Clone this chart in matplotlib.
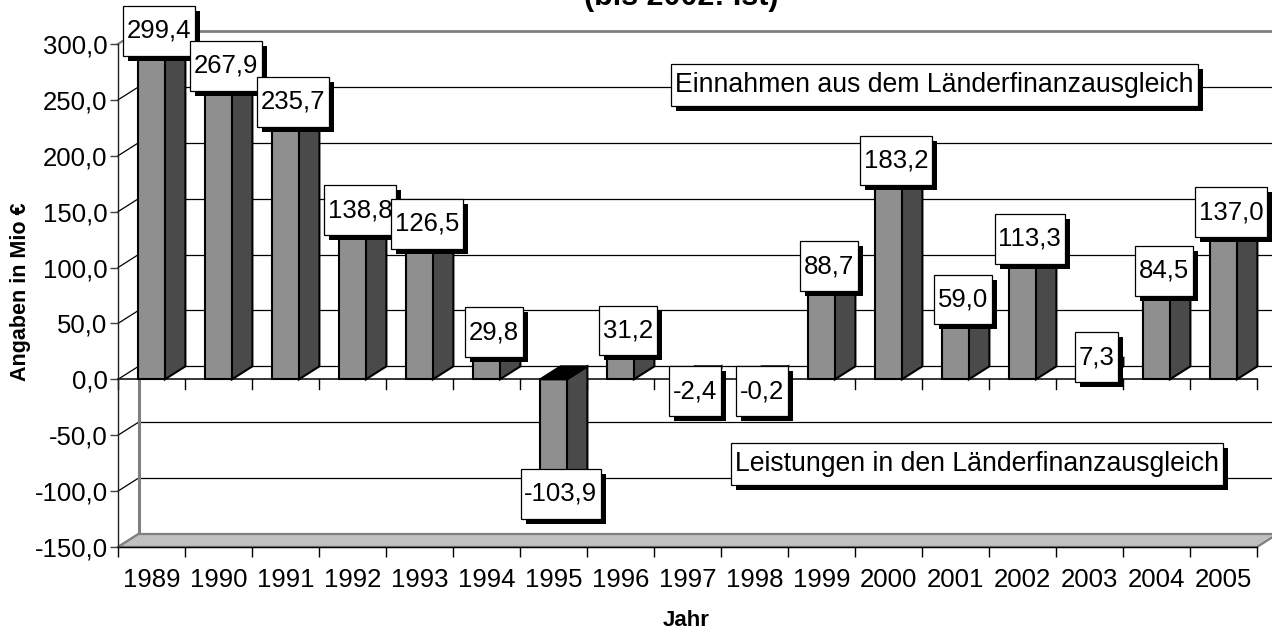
import matplotlib
matplotlib.use("Agg")
import matplotlib.pyplot as plt
from matplotlib.patches import Polygon
from matplotlib.path import Path
import matplotlib.patheffects as pe
from matplotlib.ticker import FuncFormatter, FixedLocator

# ---------------- data ----------------
years = ['1989', '1990', '1991', '1992', '1993', '1994', '1995', '1996', '1997',
         '1998', '1999', '2000', '2001', '2002', '2003', '2004', '2005']
values = [299.4, 267.9, 235.7, 138.8, 126.5, 29.8, -103.9, 31.2, -2.4,
          -0.2, 88.7, 183.2, 59.0, 113.3, 7.3, 84.5, 137.0]
y_ticks = [-150, -100, -50, 0, 50, 100, 150, 200, 250, 300]
title_text = "(bis 2002: Ist)"
ylabel_text = "Angaben in Mio €"
xlabel_text = "Jahr"
note_in = "Einnahmen aus dem Länderfinanzausgleich"
note_out = "Leistungen in den Länderfinanzausgleich"

# ---------------- style ----------------
plt.rcParams['font.family'] = ['Liberation Sans', 'DejaVu Sans']
FS = 18.5
FRONT = '#8f8f8f'
SIDE = '#4a4a4a'
TOP = '#000000'
FLOOR = '#c0c0c0'
WALLEDGE = '#808080'

W, H = 1272, 636
fig = plt.figure(figsize=(W / 100, H / 100), dpi=100)
L, R, T, B = 118, 1257, 44, 547
ax = fig.add_axes([L / W, 1 - B / H, (R - L) / W, (B - T) / H])
n = len(years)
ymin, ymax = y_ticks[0], y_ticks[-1]
ax.set_xlim(0, n)
ax.set_ylim(ymin, ymax)
ax.set_facecolor('none')

sx = (R - L) / n            # px per category
sy = (B - T) / (ymax - ymin)  # px per value unit
DX = 20.5 / sx              # depth offset in x (data)
DY = 13.0 / sy              # depth offset in y (data)

# ---------------- walls ----------------
for t in y_ticks:
    if t == ymax:
        ax.plot([DX, n + DX], [t + DY, t + DY], color=WALLEDGE, lw=2.0,
                clip_on=False, zorder=1, solid_capstyle='butt')
    elif t == ymin:
        pass
    else:
        ax.plot([DX, n + DX], [t + DY, t + DY], color='black', lw=0.9,
                clip_on=False, zorder=1)
for t in y_ticks:
    c = WALLEDGE if t in (ymin, ymax) else 'black'
    lw = 1.6 if t in (ymin, ymax) else 0.9
    ax.plot([0, DX], [t, t + DY], color=c, lw=lw, clip_on=False, zorder=1)
ax.plot([DX, DX], [ymin + DY, ymax + DY], color=WALLEDGE, lw=2.2,
        clip_on=False, zorder=1, solid_capstyle='butt')
floor = Polygon([(0, ymin), (n, ymin), (n + DX, ymin + DY), (DX, ymin + DY)],
                closed=True, facecolor=FLOOR, edgecolor=WALLEDGE, lw=1.6,
                clip_on=False, zorder=1.2)
ax.add_patch(floor)
ax.plot([0, n], [ymin, ymin], color='black', lw=1.0, clip_on=False, zorder=1.3)

ax.plot([0, n], [0, 0], color='black', lw=1.1, clip_on=False, zorder=2)
tick_len = 10.0 / sy
for k in range(n + 1):
    ax.plot([k, k], [0, -tick_len], color='black', lw=1.0, clip_on=False, zorder=2)

# ---------------- bars ----------------
bw = 0.40
for i, v in enumerate(values):
    xc = i + 0.5
    x0, x1 = xc - bw / 2, xc + bw / 2
    side = Polygon([(x1, 0), (x1 + DX, DY), (x1 + DX, v + DY), (x1, v)], closed=True,
                   facecolor=SIDE, edgecolor='black', lw=1.5, zorder=3,
                   joinstyle='miter', clip_on=False)
    front = Polygon([(x0, 0), (x1, 0), (x1, v), (x0, v)], closed=True,
                    facecolor=FRONT, edgecolor='black', lw=1.5, zorder=3.1,
                    joinstyle='miter', clip_on=False)
    t = max(v, 0)
    top = Polygon([(x0, t), (x1, t), (x1 + DX, t + DY), (x0 + DX, t + DY)], closed=True,
                  facecolor=TOP, edgecolor='black', lw=1.5, zorder=3.2,
                  joinstyle='miter', clip_on=False)
    for p in (side, front, top):
        ax.add_patch(p)


# ---------------- label boxes ----------------
def make_box(padx, pady):
    def box(x0, y0, width, height, mutation_size):
        px = padx * mutation_size
        py = pady * mutation_size
        xa, ya = x0 - px, y0 - py
        xb, yb = x0 + width + px, y0 + height + py
        return Path([(xa, ya), (xb, ya), (xb, yb), (xa, yb), (xa, ya)], closed=True)
    return box


shadow = [pe.SimplePatchShadow(offset=(3.6, -3.6), shadow_rgbFace='black', alpha=1.0),
          pe.Normal()]


def boxed_text(x, y, s, fs=FS, padx=0.14, pady=0.5, z=6):
    txt = ax.text(x, y, s, ha='center', va='center', fontsize=fs, color='black',
                  zorder=z, clip_on=False,
                  bbox=dict(boxstyle=make_box(padx, pady), facecolor='white',
                            edgecolor='black', lw=0.9))
    txt.get_bbox_patch().set_path_effects(shadow)
    return txt


for i, v in enumerate(values):
    lab = f"{v:.1f}".replace('.', ',')
    xl = i + 0.5 + 0.11
    if v >= 0:
        yl = v + 12.5
    else:
        yl = min(v + 1.5, -10.5)
    boxed_text(xl, yl, lab)

boxed_text(12.19, 263.0, note_in, fs=19.2, padx=0.15, pady=0.3)
boxed_text(12.82, -76.0, note_out, fs=19.2, padx=0.15, pady=0.3)

# ---------------- axes / ticks ----------------
for s in ('top', 'right', 'bottom'):
    ax.spines[s].set_visible(False)
ax.spines['left'].set_color('#202020')
ax.spines['left'].set_linewidth(1.0)
ax.spines['left'].set_zorder(2)

ax.yaxis.set_major_locator(FixedLocator(y_ticks))
ax.yaxis.set_major_formatter(FuncFormatter(lambda v, p: f"{v:.1f}".replace('.', ',')))
ax.tick_params(axis='y', which='major', length=6, width=1.0, color='#404040',
               pad=1.5, labelsize=FS)

ax.set_xticks([i + 0.5 for i in range(n)])
ax.set_xticklabels(years)
ax.set_xticks(list(range(n + 1)), minor=True)
ax.tick_params(axis='x', which='major', length=0, pad=15, labelsize=FS)
ax.tick_params(axis='x', which='minor', length=7.2, width=1.0, color='black',
               direction='out')

# ---------------- titles ----------------
fig.text(681 / W, 1 - 5 / H, title_text, ha='center', va='baseline',
         fontsize=22, fontweight='bold')
fig.text(21 / W, 1 - 292 / H, ylabel_text, rotation=90, ha='center', va='center',
         fontsize=15.5, fontweight='bold')
fig.text(686 / W, 1 - 620 / H, xlabel_text, ha='center', va='center',
         fontsize=16, fontweight='bold')

fig.savefig('out.png', dpi=100, facecolor='white')
